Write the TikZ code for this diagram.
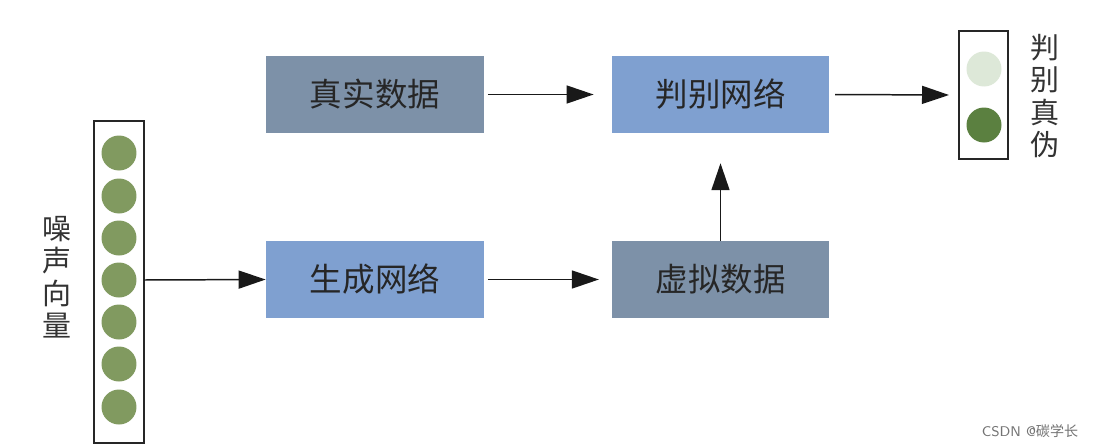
\documentclass[tikz,border=0pt]{standalone}
\usepackage{fontspec}
\newfontfamily\cjk{Noto Sans CJK SC}
\usetikzlibrary{arrows.meta, positioning}
\definecolor{dataclr}{HTML}{7D91A8}
\definecolor{netclr}{HTML}{7FA0D0}
\definecolor{noiseclr}{HTML}{819A60}
\definecolor{falseclr}{HTML}{DDE8D8}
\definecolor{trueclr}{HTML}{5B8040}
\tikzset{
  blk/.style     ={minimum width=4.36cm, minimum height=1.54cm, inner sep=0pt, font=\cjk\fontsize{18.5}{21}\selectfont, text=black!85},
  databox/.style ={blk, fill=dataclr},
  netbox/.style  ={blk, fill=netclr},
  col/.style     ={draw=black!85, line width=0.9pt, fill=white},
  dot/.style     ={circle, minimum size=0.7cm, inner sep=0pt},
  flow/.style    ={-{Triangle[length=5.4mm, width=3.6mm]}, line width=0.85pt, black!90},
  vlbl/.style    ={font=\cjk\fontsize{16.5}{18.5}\selectfont, align=center, text=black!80, inner sep=0pt},
  wmark/.style   ={font=\sffamily\fontsize{8}{9}\selectfont, text=black!55},
}
\begin{document}
\begin{tikzpicture}[x=0.02cm, y=-0.02cm]
  \useasboundingbox (0,0) rectangle (1096,447);

  % boxes
  \node[databox] (real) at (375,94.5)  {真实数据};
  \node[netbox]  (disc) at (720.5,94.5) {判别网络};
  \node[netbox]  (gen)  at (375,279.5) {生成网络};
  \node[databox] (fake) at (720.5,279.5) {虚拟数据};

  % noise vector
  \draw[col] (94,121) rectangle (144,443);
  \foreach \i/\y in {1/153,2/196,3/238,4/280,5/322,6/364,7/407}
    \node[dot, fill=noiseclr] (z\i) at (119,\y) {};
  \coordinate (zout) at (144,280);
  \node[vlbl] (zlbl) at (57,277) {噪\\声\\向\\量};

  % output
  \draw[col] (959,31) rectangle (1008,159);
  \node[dot, fill=falseclr] (o1) at (984,69)  {};
  \node[dot, fill=trueclr]  (o2) at (984,125) {};
  \coordinate (oin) at (949,95);
  \node[vlbl] (olbl) at (1045,96) {判\\别\\真\\伪};

  % connectors
  \draw[flow] (zout) -- (gen.west);
  \draw[flow] ([xshift=2pt]real.east) -- ([xshift=-10pt]disc.west);
  \draw[flow] ([xshift=2pt]gen.east) -- ([xshift=-7pt]fake.west);
  \draw[flow] (fake.north) -- ([yshift=-17pt]disc.south);
  \draw[flow] ([xshift=3pt]disc.east) -- (oin);

  \node[wmark] (wm) at (1030,431) {CSDN @{\cjk 碳学长}};
\end{tikzpicture}
\end{document}
